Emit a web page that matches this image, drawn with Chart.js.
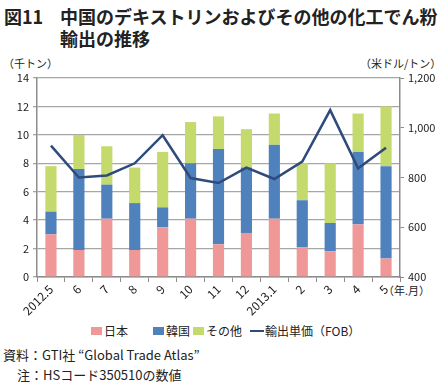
<!DOCTYPE html>
<html>
<head>
<meta charset="utf-8">
<script src="https://cdn.jsdelivr.net/npm/chart.js@4"></script>
<style>
  body { margin: 0; width: 446px; height: 387px; position: relative; background: #fff; font-family: "Noto Sans CJK JP", sans-serif; color: #222; overflow: hidden; }
  #c { position: absolute; left: 0; top: 0; }
  .t { position: absolute; white-space: nowrap; }
  .title { font-size: 18px; font-weight: bold; line-height: 21px; }
  .unit { font-size: 11px; }
  .lg { position: absolute; top: 322px; font-size: 12px; display: flex; align-items: center; }
  .sw { display: inline-block; width: 11px; height: 8px; margin-right: 2px; }
  .ln { display: inline-block; width: 14px; height: 2px; background: #2F4B7C; margin-right: 1px; }
  .note { font-size: 13px; }
</style>
</head>
<body>
<div class="t title" style="left:4px;top:6px">図11</div>
<div class="t title" style="left:60px;top:6px">中国のデキストリンおよびその他の化工でん粉</div>
<div class="t title" style="left:60px;top:28px">輸出の推移</div>
<div class="t unit" style="left:3px;top:55px">（千トン）</div>
<div class="t unit" style="left:360px;top:55px">（米ドル/トン）</div>
<div class="t unit" style="left:383px;top:282px">（年.月）</div>

<div class="lg" style="left:91px"><span class="sw" style="background:#F09898"></span>日本</div>
<div class="lg" style="left:153px"><span class="sw" style="background:#4F81BD"></span>韓国</div>
<div class="lg" style="left:193px"><span class="sw" style="background:#C5DA6C"></span>その他</div>
<div class="lg" style="left:250px"><span class="ln"></span>輸出単価（FOB）</div>

<div class="t note" style="left:3px;top:345px">資料：GTI社 “Global Trade Atlas”</div>
<div class="t note" style="left:17px;top:365px">注：HSコード350510の数値</div>

<canvas id="c" width="446" height="387"></canvas>
<script>
const labels = ["2012.5", "6", "7", "8", "9", "10", "11", "12", "2013.1", "2", "3", "4", "5"];
const japan = [3.0, 1.9, 4.1, 1.9, 3.5, 4.1, 2.3, 3.1, 4.1, 2.1, 1.8, 3.7, 1.3];
const korea = [1.6, 5.7, 2.4, 3.3, 1.4, 3.9, 6.7, 4.6, 5.2, 3.3, 2.0, 5.1, 6.5];
const other = [3.2, 2.4, 2.7, 2.5, 3.9, 2.9, 2.3, 2.7, 2.2, 2.6, 4.2, 2.7, 4.2];
const price = [928, 800, 808, 857, 970, 798, 778, 840, 794, 864, 1071, 837, 920];

const tickFont = { family: "Noto Sans CJK JP", size: 11 };
const axisColor = "#8c8c8c";

new Chart(document.getElementById("c"), {
  type: "bar",
  data: {
    labels: labels,
    datasets: [
      { type: "line", label: "輸出単価（FOB）", data: price, yAxisID: "y1", borderColor: "#2F4B7C",
        borderWidth: 2.5, pointRadius: 0, tension: 0, fill: false, order: 0 },
      { label: "日本", data: japan, backgroundColor: "#F09898", yAxisID: "y", stack: "s", order: 1 },
      { label: "韓国", data: korea, backgroundColor: "#4F81BD", yAxisID: "y", stack: "s", order: 1 },
      { label: "その他", data: other, backgroundColor: "#C5DA6C", yAxisID: "y", stack: "s", order: 1 }
    ]
  },
  options: {
    responsive: false,
    animation: false,
    layout: { padding: { top: 78, left: 0, right: 0, bottom: 0 } },
    datasets: { bar: { barPercentage: 0.8, categoryPercentage: 0.5 } },
    plugins: { legend: { display: false }, tooltip: { enabled: false } },
    scales: {
      x: {
        stacked: true,
        afterFit: s => { s.height = 387 - 78 - 199; },
        grid: { display: true, drawOnChartArea: false, offset: true, color: axisColor, tickLength: 5 },
        border: { color: axisColor, width: 1.5 },
        ticks: { font: { family: "Noto Sans CJK JP", size: 12 }, color: "#222", maxRotation: 45, minRotation: 45, padding: 0 }
      },
      y: {
        stacked: true, position: "left", min: 0, max: 14,
        afterFit: s => { s.width = 37; },
        grid: { color: "#a6a6a6", lineWidth: 1.3, tickLength: 4 },
        border: { color: axisColor, width: 1.5 },
        ticks: { stepSize: 2, font: tickFont, color: "#222", padding: 4 }
      },
      y1: {
        position: "right", min: 400, max: 1200,
        afterFit: s => { s.width = 46; },
        grid: { drawOnChartArea: false, color: axisColor, tickLength: 4 },
        border: { color: axisColor, width: 1.5 },
        ticks: { stepSize: 200, font: tickFont, color: "#222", padding: 4,
          callback: v => v.toLocaleString("en-US") }
      }
    }
  }
});
</script>
</body>
</html>
